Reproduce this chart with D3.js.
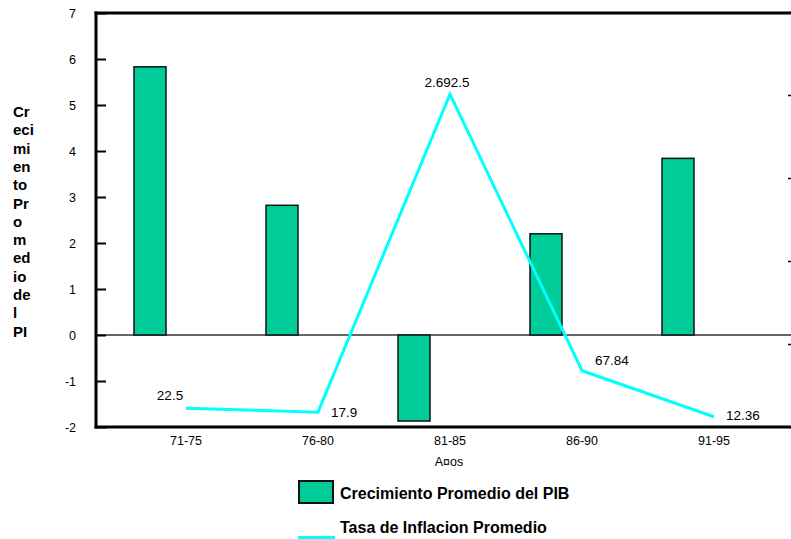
<!DOCTYPE html>
<html><head><meta charset="utf-8">
<script src="https://cdn.jsdelivr.net/npm/d3@7/dist/d3.min.js"></script>
<style>
body{margin:0;background:#fff;}
text{font-family:"Liberation Sans",Arial,sans-serif;}
</style></head>
<body><svg id="c" width="791" height="539"></svg>
<script>
const categories = ["71-75","76-80","81-85","86-90","91-95"];
const pibValues = [5.83, 2.82, -1.87, 2.2, 3.84];
const inflationValues = [22.5, 17.9, 401, 67.84, 12.36];
const inflationLabels = ["22.5","17.9","2.692.5","67.84","12.36"];
const yTicks = [-2,-1,0,1,2,3,4,5,6,7];
const y2Ticks = [0,100,200,300,400,500];
const yTitleParts = ["Cr","eci","mi","en","to","Pr","o","m","ed","io","de","l","PI"];

(function(){
const svg = d3.select("#c");
const FONT = '"Liberation Sans",Arial,sans-serif';
const pLeft = 96, pTop = 13, pBottom = 427, pRight = 791;
const x = d3.scaleBand().domain(categories).range([120, 780]).padding(0);
const y = d3.scaleLinear().domain([-2, 7]).range([pBottom, pTop]);
const y2 = d3.scaleLinear().domain([0, 500]).range([pBottom, 12]);

// zero line
svg.append("line").attr("x1", pLeft).attr("x2", pRight).attr("y1", y(0)).attr("y2", y(0))
  .attr("stroke", "#333").attr("stroke-width", 1.3);

// bars
const bw = 32;
svg.selectAll("rect.bar").data(categories).join("rect").attr("class","bar")
  .attr("x", c => x(c) + 14)
  .attr("width", bw)
  .attr("y", (c,i) => Math.min(y(pibValues[i]), y(0)))
  .attr("height", (c,i) => Math.abs(y(pibValues[i]) - y(0)))
  .attr("fill", "#00CC99").attr("stroke", "#111").attr("stroke-width", 1.5);

// left axis
const yAxis = d3.axisLeft(y).tickValues(yTicks).tickSize(-10).tickPadding(20).tickFormat(d => String(d));
const ga = svg.append("g").attr("transform", `translate(${pLeft},0)`).call(yAxis);
ga.attr("font-size", 12.5).attr("font-family", FONT);
ga.select(".domain").remove();
ga.selectAll(".tick line").attr("stroke", "#000").attr("stroke-width", 2);
ga.selectAll(".tick text").attr("fill", "#000");

// secondary axis ticks (axis itself lies beyond the right edge)
const y2Axis = d3.axisRight(y2).tickValues(y2Ticks).tickSize(3).tickFormat("");
const gb = svg.append("g").attr("transform", `translate(788,0)`).call(y2Axis);
gb.select(".domain").remove();
gb.selectAll(".tick line").attr("stroke", "#000").attr("stroke-width", 1.5);

// frame lines
svg.append("line").attr("x1", pLeft).attr("x2", pLeft).attr("y1", pTop - 1.5).attr("y2", pBottom + 1.5)
  .attr("stroke", "#000").attr("stroke-width", 3);
svg.append("line").attr("x1", pLeft - 1.5).attr("x2", pRight).attr("y1", pTop).attr("y2", pTop)
  .attr("stroke", "#000").attr("stroke-width", 3);
svg.append("line").attr("x1", pLeft - 1.5).attr("x2", pRight).attr("y1", pBottom).attr("y2", pBottom)
  .attr("stroke", "#000").attr("stroke-width", 3);

// x labels
const xAxis = d3.axisBottom(x).tickSize(0).tickPadding(9);
const gx = svg.append("g").attr("transform", `translate(0,${pBottom})`).call(xAxis);
gx.attr("font-size", 12.5).attr("font-family", FONT);
gx.select(".domain").remove();
gx.selectAll(".tick text").attr("fill", "#000");

svg.append("text").attr("x", 449).attr("y", 466).attr("text-anchor", "middle")
  .attr("font-size", 12.5).text("A¤os");

// inflation line
const cx = c => x(c) + x.bandwidth() / 2;
const line = d3.line().x((d,i) => cx(categories[i])).y(d => y2(d));
svg.append("path").datum(inflationValues).attr("d", line)
  .attr("fill", "none").attr("stroke", "#00FFFF").attr("stroke-width", 3);

// data labels
const labelAnchor = [
  {dx: -16, dy: -8, a: "middle"},
  {dx: 13, dy: 5, a: "start"},
  {dx: -3, dy: -7, a: "middle"},
  {dx: 13, dy: -6, a: "start"},
  {dx: 12, dy: 3, a: "start"}
];
svg.selectAll("text.lbl").data(inflationLabels).join("text").attr("class","lbl")
  .attr("x", (d,i) => cx(categories[i]) + labelAnchor[i].dx)
  .attr("y", (d,i) => y2(inflationValues[i]) + labelAnchor[i].dy)
  .attr("text-anchor", (d,i) => labelAnchor[i].a)
  .attr("font-size", 13.5).attr("fill", "#000").text(d => d);

// y title (wrapped)
svg.append("g").selectAll("text").data(yTitleParts).join("text")
  .attr("x", 13).attr("y", (d,i) => 117 + i * 18.3)
  .attr("font-size", 15).attr("font-weight", "bold").text(d => d);

// legend
svg.append("rect").attr("x", 299).attr("y", 481).attr("width", 34).attr("height", 22)
  .attr("fill", "#00CC99").attr("stroke", "#111").attr("stroke-width", 2);
svg.append("text").attr("x", 340).attr("y", 499).attr("font-size", 16).attr("font-weight", "bold")
  .text("Crecimiento Promedio del PIB");
svg.append("line").attr("x1", 298).attr("x2", 335).attr("y1", 537.5).attr("y2", 537.5)
  .attr("stroke", "#00FFFF").attr("stroke-width", 3);
svg.append("text").attr("x", 340).attr("y", 533).attr("font-size", 16).attr("font-weight", "bold")
  .text("Tasa de Inflacion Promedio");
})();
</script></body></html>
